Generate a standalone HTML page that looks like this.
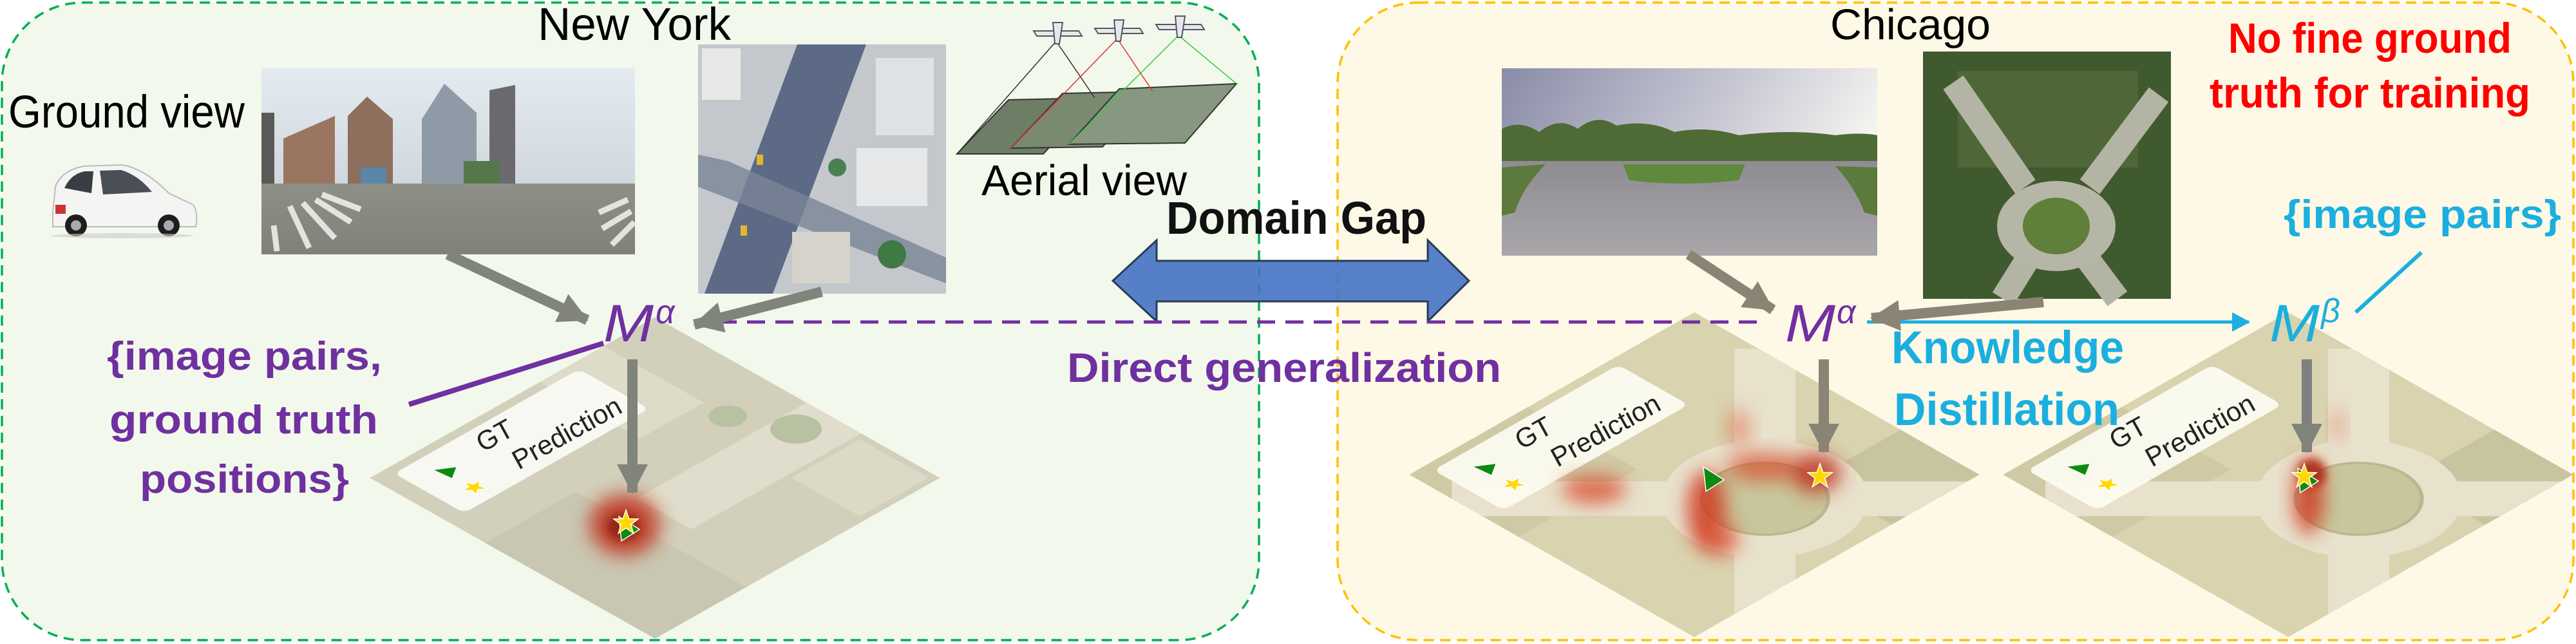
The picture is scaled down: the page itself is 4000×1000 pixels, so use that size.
<!DOCTYPE html>
<html><head><meta charset="utf-8"><style>
html,body{margin:0;padding:0;background:#fff;}
svg{display:block;}
text{font-family:"Liberation Sans",sans-serif;}
</style></head><body>
<svg width="4000" height="1000" viewBox="0 0 4000 1000" xmlns="http://www.w3.org/2000/svg">
<defs>
<marker id="ga" markerUnits="userSpaceOnUse" markerWidth="48" markerHeight="48" refX="44" refY="24" orient="auto">
<path d="M0,0 L46,24 L0,48 z" fill="#80847a"/></marker>
<marker id="gb" markerUnits="userSpaceOnUse" markerWidth="48" markerHeight="48" refX="44" refY="24" orient="auto">
<path d="M0,0 L46,24 L0,48 z" fill="#8a8474"/></marker>
<marker id="ca" markerUnits="userSpaceOnUse" markerWidth="30" markerHeight="30" refX="26" refY="15" orient="auto">
<path d="M0,0 L28,15 L0,30 z" fill="#1aafdf"/></marker>
<g id="star"><path d="M0,-20 L4.7,-6.5 L19,-6.2 L7.6,2.5 L11.8,16.2 L0,8 L-11.8,16.2 L-7.6,2.5 L-19,-6.2 L-4.7,-6.5 z" fill="#ffd800" stroke="#fff" stroke-width="1.5"/></g>
<g id="tri"><path d="M-14,-18 L18,2 L-10,20 z" fill="#0f8a10" stroke="#fff" stroke-width="1.5"/></g>
<filter id="bl" x="-50%" y="-50%" width="200%" height="200%"><feGaussianBlur stdDeviation="14"/></filter>
<filter id="bl2" x="-50%" y="-50%" width="200%" height="200%"><feGaussianBlur stdDeviation="6"/></filter>
<clipPath id="sq"><rect x="-313" y="-313" width="626" height="626"/></clipPath>
<clipPath id="d0"><polygon points="574,740 1017,491 1460,740 1017,992"/></clipPath>
<clipPath id="d1"><polygon points="2188,735 2631,483 3074,735 2631,989"/></clipPath>
<clipPath id="d2"><polygon points="3108,735 3554,483 4000,735 3554,989"/></clipPath>
<linearGradient id="nysky" x1="0" y1="0" x2="0" y2="1"><stop offset="0" stop-color="#e4ebf0"/><stop offset="1" stop-color="#c4ccd2"/></linearGradient>
<linearGradient id="chsky" x1="0" y1="0" x2="1" y2="0.3"><stop offset="0" stop-color="#8a8ca8"/><stop offset="0.6" stop-color="#c8c8d4"/><stop offset="1" stop-color="#f4f4f0"/></linearGradient>
<linearGradient id="road" x1="0" y1="0" x2="0" y2="1"><stop offset="0" stop-color="#8e8f86"/><stop offset="1" stop-color="#80827a"/></linearGradient>
<linearGradient id="croad" x1="0" y1="0" x2="0" y2="1"><stop offset="0" stop-color="#8f8c92"/><stop offset="1" stop-color="#a9a7aa"/></linearGradient>
</defs>

<rect x="3" y="4" width="1952" height="990" rx="125" ry="125" fill="#f2f8ec" stroke="#00b050" stroke-width="3.5" stroke-dasharray="16 10"/>
<rect x="2077" y="4" width="1919" height="990" rx="125" ry="125" fill="#fef8e6" stroke="#ffc000" stroke-width="3.5" stroke-dasharray="16 10"/>

<text x="835" y="62" font-size="71" textLength="300" lengthAdjust="spacingAndGlyphs">New York</text>
<text x="13" y="198" font-size="71" textLength="367" lengthAdjust="spacingAndGlyphs">Ground view</text>
<text x="1524" y="303" font-size="67" textLength="319" lengthAdjust="spacingAndGlyphs">Aerial view</text>
<text x="2842" y="61" font-size="67" textLength="249" lengthAdjust="spacingAndGlyphs">Chicago</text>
<text x="3460" y="82" font-size="66" font-weight="bold" fill="#ff0000" textLength="440" lengthAdjust="spacingAndGlyphs">No fine ground</text>
<text x="3431" y="167" font-size="66" font-weight="bold" fill="#ff0000" textLength="498" lengthAdjust="spacingAndGlyphs">truth for training</text>

<g>
<path d="M82,330 L86,290 Q95,265 130,258 L190,256 Q225,262 262,300 L300,318 Q308,330 304,352 L82,352 z" fill="#f4f5f2" stroke="#bbb" stroke-width="2"/>
<path d="M100,292 Q110,270 132,266 L145,266 L142,300 z" fill="#3a3e44"/>
<path d="M155,265 L188,264 Q215,272 236,298 L160,302 z" fill="#4a4e56"/>
<rect x="86" y="318" width="16" height="14" fill="#c33"/>
<circle cx="118" cy="350" r="17" fill="#1d1d1d"/><circle cx="118" cy="350" r="8" fill="#aaa"/>
<circle cx="262" cy="350" r="17" fill="#1d1d1d"/><circle cx="262" cy="350" r="8" fill="#aaa"/>
<ellipse cx="190" cy="366" rx="110" ry="4" fill="#ccc" opacity="0.6"/>
</g>

<g>
<rect x="406" y="106" width="580" height="289" fill="url(#nysky)"/>
<rect x="406" y="175" width="20" height="130" fill="#5a5a56"/>
<polygon points="440,215 520,180 520,300 440,300" fill="#9a7660"/>
<polygon points="540,180 570,150 610,185 610,300 540,300" fill="#8e6e5c"/>
<polygon points="655,185 690,130 740,175 740,300 655,300" fill="#8e9aa6"/>
<polygon points="760,140 800,132 800,300 760,300" fill="#6a6a6e"/>
<rect x="560" y="260" width="40" height="30" fill="#5a86a8"/>
<rect x="720" y="250" width="55" height="40" fill="#55784a"/>
<rect x="406" y="285" width="580" height="110" fill="url(#road)"/>
<g stroke="#eeeeea" stroke-width="9" opacity="0.9">
<line x1="425" y1="350" x2="430" y2="390"/><line x1="450" y1="320" x2="480" y2="385"/><line x1="470" y1="315" x2="520" y2="370"/>
<line x1="490" y1="310" x2="545" y2="345"/><line x1="500" y1="302" x2="560" y2="325"/>
<line x1="975" y1="310" x2="930" y2="330"/><line x1="980" y1="328" x2="935" y2="355"/><line x1="985" y1="345" x2="950" y2="380"/>
</g>
</g>

<g>
<rect x="1084" y="69" width="385" height="387" fill="#c4c8cc"/>
<polygon points="1238,69 1345,69 1200,456 1094,456" fill="#5d6a86"/>
<polygon points="1084,240 1130,250 1469,400 1469,440 1084,290" fill="#7a8496" opacity="0.8"/>
<rect x="1090" y="75" width="60" height="80" fill="#e8e8e6"/>
<rect x="1360" y="90" width="90" height="120" fill="#dfe2e4"/>
<rect x="1330" y="230" width="110" height="90" fill="#e6e7e8"/>
<rect x="1230" y="360" width="90" height="80" fill="#d6d3cc"/>
<circle cx="1385" cy="395" r="22" fill="#3f7a45"/><circle cx="1300" cy="260" r="14" fill="#4b8050"/>
<rect x="1175" y="240" width="10" height="16" fill="#e0b830"/><rect x="1150" y="350" width="10" height="16" fill="#e0b830"/>
</g>

<g>
<polygon points="1486,239 1566,155 1700,152 1620,239" fill="#6e7e66" stroke="#333" stroke-width="2"/>
<polygon points="1570,230 1650,145 1790,142 1712,228" fill="#7a8a70" stroke="#333" stroke-width="2"/>
<polygon points="1660,224 1738,138 1920,130 1840,222" fill="#889880" stroke="#333" stroke-width="2"/>
<g stroke-width="1.5" fill="none">
<path d="M1640,64 L1486,239 M1640,64 L1700,152" stroke="#333"/>
<path d="M1735,60 L1570,230 M1735,60 L1790,142" stroke="#d33"/>
<path d="M1830,55 L1660,224 M1830,55 L1920,130" stroke="#3c3"/>
</g>
<g fill="#e8e8ec" stroke="#556" stroke-width="2">
<path d="M1605,48 L1675,48 L1680,56 L1610,56 z"/><path d="M1635,35 L1650,35 L1645,68 L1638,68 z"/>
<path d="M1700,44 L1770,44 L1775,52 L1705,52 z"/><path d="M1730,31 L1745,31 L1740,64 L1733,64 z"/>
<path d="M1795,38 L1865,38 L1870,46 L1800,46 z"/><path d="M1825,25 L1840,25 L1835,58 L1828,58 z"/>
</g>
</g>

<g>
<rect x="2332" y="106" width="583" height="291" fill="url(#chsky)"/>
<path d="M2332,200 Q2360,185 2390,205 Q2420,180 2450,200 Q2480,175 2510,195 Q2560,185 2600,205 Q2650,195 2700,210 Q2780,200 2850,210 Q2890,205 2915,210 L2915,265 L2332,265 z" fill="#4f6b35"/>
<rect x="2332" y="250" width="583" height="147" fill="url(#croad)"/>
<path d="M2332,260 L2400,255 Q2365,290 2352,330 L2332,335 z" fill="#5c7a3c"/>
<path d="M2520,255 L2710,255 L2700,280 Q2610,290 2530,280 z" fill="#5f8a3e"/>
<path d="M2915,260 L2850,258 Q2880,290 2895,330 L2915,335 z" fill="#5c7a3c"/>
</g>

<g>
<rect x="2986" y="80" width="385" height="384" fill="#3f5a2e"/>
<rect x="3040" y="110" width="280" height="150" fill="#5a7040" opacity="0.6"/>
<g stroke="#b4b4a4" stroke-width="38" fill="none">
<line x1="3033" y1="128" x2="3145" y2="290"/><line x1="3352" y1="147" x2="3245" y2="290"/>
<line x1="3150" y1="400" x2="3110" y2="464"/><line x1="3240" y1="400" x2="3288" y2="464"/>
</g>
<ellipse cx="3193" cy="351" rx="92" ry="70" fill="#b6b6a6"/>
<ellipse cx="3193" cy="351" rx="52" ry="44" fill="#5f7f3a"/>
</g>

<!-- NY diamond -->
<g transform="translate(1017,742) scale(1,0.564) rotate(-45)">
<g clip-path="url(#sq)">
<rect x="-313" y="-313" width="626" height="626" fill="#d2d0bb"/>
<rect x="-60" y="20" width="373" height="120" fill="#e0ddcc"/>
<rect x="60" y="-313" width="140" height="220" fill="#dedbc9"/>
<rect x="150" y="150" width="150" height="150" fill="#dcd9c6"/>
<rect x="-313" y="-60" width="200" height="373" fill="#c9c7b2"/>
<circle cx="200" cy="-40" r="30" fill="#b8c2a2"/><circle cx="250" cy="60" r="40" fill="#b8c2a2"/>
<rect x="-278" y="-295" width="406" height="154" rx="14" fill="#fbfcf7" opacity="0.9"/>
<use href="#tri" x="-214" y="-241"/>
<use href="#star" x="-217" y="-180"/>
</g></g>
<g font-size="42" fill="#222" dominant-baseline="central" text-anchor="middle">
<text transform="translate(768,676) rotate(-29)">GT</text>
<text transform="translate(880,672) rotate(-29)">Prediction</text>
</g>
<g clip-path="url(#d0)">
<ellipse cx="970" cy="815" rx="55" ry="48" fill="#c0301c" opacity="0.85" filter="url(#bl)"/>
<ellipse cx="968" cy="818" rx="26" ry="22" fill="#8a1a10" opacity="0.8" filter="url(#bl2)"/>
<use href="#tri" x="975" y="820"/>
<use href="#star" x="972" y="812"/>
</g>

<!-- Chicago diamond 1 -->
<g transform="translate(2631,737) scale(1,0.57) rotate(-45)">
<g clip-path="url(#sq)">
<rect x="-313" y="-313" width="626" height="626" fill="#d9d3b0"/>
<rect x="-313" y="-313" width="260" height="240" fill="#cfc9a6"/>
<rect x="120" y="140" width="193" height="173" fill="#c9c4a0"/>
<g stroke="#e8e1cc" stroke-width="95" fill="none">
<line x1="31" y1="124" x2="-313" y2="-220"/><line x1="31" y1="124" x2="320" y2="-165"/>
<line x1="31" y1="124" x2="-250" y2="405"/><line x1="31" y1="124" x2="330" y2="423"/>
</g>
<circle cx="31" cy="124" r="160" fill="#e8e1cc"/>
<circle cx="31" cy="124" r="98" fill="#c8c69c" stroke="#b9b892" stroke-width="6"/>
<rect x="-278" y="-295" width="406" height="154" rx="14" fill="#fdfcf2" opacity="0.92"/>
<use href="#tri" x="-214" y="-241"/>
<use href="#star" x="-217" y="-180"/>
</g></g>
<g font-size="42" fill="#222" dominant-baseline="central" text-anchor="middle">
<text transform="translate(2381,672) rotate(-29)">GT</text>
<text transform="translate(2493,668) rotate(-29)">Prediction</text>
</g>
<g clip-path="url(#d1)">
<ellipse cx="2475" cy="760" rx="50" ry="22" fill="#d84a2a" opacity="0.75" filter="url(#bl)"/>
<ellipse cx="2650" cy="790" rx="30" ry="60" fill="#d03a20" opacity="0.85" filter="url(#bl)"/>
<ellipse cx="2670" cy="838" rx="30" ry="26" fill="#d84a2a" opacity="0.7" filter="url(#bl)"/>
<ellipse cx="2740" cy="725" rx="60" ry="22" fill="#d84a2a" opacity="0.7" filter="url(#bl)"/>
<ellipse cx="2820" cy="735" rx="38" ry="30" fill="#c0301c" opacity="0.85" filter="url(#bl)"/>
<ellipse cx="2700" cy="665" rx="18" ry="30" fill="#e06040" opacity="0.5" filter="url(#bl)"/>
<use href="#tri" x="2659" y="743"/>
<use href="#star" x="2826" y="740"/>
</g>

<!-- Chicago diamond 2 -->
<g transform="translate(3553,737) scale(1,0.57) rotate(-45)">
<g clip-path="url(#sq)">
<rect x="-313" y="-313" width="626" height="626" fill="#d9d3b0"/>
<rect x="-313" y="-313" width="260" height="240" fill="#cfc9a6"/>
<rect x="120" y="140" width="193" height="173" fill="#c9c4a0"/>
<g stroke="#e8e1cc" stroke-width="95" fill="none">
<line x1="31" y1="124" x2="-313" y2="-220"/><line x1="31" y1="124" x2="320" y2="-165"/>
<line x1="31" y1="124" x2="-250" y2="405"/><line x1="31" y1="124" x2="330" y2="423"/>
</g>
<circle cx="31" cy="124" r="160" fill="#e8e1cc"/>
<circle cx="31" cy="124" r="98" fill="#c8c69c" stroke="#b9b892" stroke-width="6"/>
<rect x="-278" y="-295" width="406" height="154" rx="14" fill="#fdfcf2" opacity="0.92"/>
<use href="#tri" x="-214" y="-241"/>
<use href="#star" x="-217" y="-180"/>
</g></g>
<g font-size="42" fill="#222" dominant-baseline="central" text-anchor="middle">
<text transform="translate(3304,672) rotate(-29)">GT</text>
<text transform="translate(3416,668) rotate(-29)">Prediction</text>
</g>
<g clip-path="url(#d2)">
<ellipse cx="3585" cy="770" rx="24" ry="60" fill="#d03a20" opacity="0.85" filter="url(#bl)"/>
<ellipse cx="3590" cy="735" rx="22" ry="22" fill="#a82010" opacity="0.8" filter="url(#bl2)"/>
<ellipse cx="3630" cy="660" rx="10" ry="25" fill="#e06040" opacity="0.45" filter="url(#bl)"/>
<use href="#tri" x="3582" y="745"/>
<use href="#star" x="3578" y="740"/>
</g>

<polygon points="1728,436 1796,373 1796,405 2217,405 2217,373 2281,436 2217,499 2217,468 1796,468 1796,499" fill="#4472c4" fill-opacity="0.9" stroke="#2b3a55" stroke-width="3"/>
<text x="1811" y="363" font-size="71" font-weight="bold" fill="#111" textLength="404" lengthAdjust="spacingAndGlyphs">Domain Gap</text>

<line x1="1116" y1="500" x2="2740" y2="500" stroke="#7030a0" stroke-width="5" stroke-dasharray="28 16"/>
<text x="1657" y="593" font-size="64" font-weight="bold" fill="#7030a0" textLength="674" lengthAdjust="spacingAndGlyphs">Direct generalization</text>

<text x="166" y="574" font-size="62" font-weight="bold" fill="#7030a0" textLength="427" lengthAdjust="spacingAndGlyphs">{image pairs,</text>
<text x="170" y="673" font-size="62" font-weight="bold" fill="#7030a0" textLength="417" lengthAdjust="spacingAndGlyphs">ground truth</text>
<text x="217" y="765" font-size="62" font-weight="bold" fill="#7030a0" textLength="325" lengthAdjust="spacingAndGlyphs">positions}</text>
<line x1="635" y1="628" x2="937" y2="533" stroke="#7030a0" stroke-width="8"/>

<line x1="2899" y1="500" x2="3492" y2="500" stroke="#1aafdf" stroke-width="5" marker-end="url(#ca)"/>
<text x="2937" y="564" font-size="71" font-weight="bold" fill="#1aafdf" textLength="361" lengthAdjust="spacingAndGlyphs">Knowledge</text>
<text x="2941" y="660" font-size="71" font-weight="bold" fill="#1aafdf" textLength="350" lengthAdjust="spacingAndGlyphs">Distillation</text>
<text x="3546" y="354" font-size="62" font-weight="bold" fill="#1aafdf" textLength="431" lengthAdjust="spacingAndGlyphs">{image pairs}</text>
<line x1="3760" y1="392" x2="3658" y2="485" stroke="#1aafdf" stroke-width="6"/>

<g stroke-width="16" fill="none">
<line x1="695" y1="395" x2="912" y2="497" stroke="#80847a" marker-end="url(#ga)"/>
<line x1="1276" y1="453" x2="1078" y2="504" stroke="#80847a" marker-end="url(#ga)"/>
<line x1="982" y1="558" x2="982" y2="765" stroke="#80847a" marker-end="url(#ga)"/>
<line x1="2622" y1="395" x2="2753" y2="481" stroke="#8a8474" marker-end="url(#gb)"/>
<line x1="3173" y1="469" x2="2906" y2="494" stroke="#8a8474" marker-end="url(#gb)"/>
<line x1="2832" y1="558" x2="2832" y2="702" stroke="#8a8474" marker-end="url(#gb)"/>
<line x1="3582" y1="558" x2="3582" y2="702" stroke="#7f7f7f" marker-end="url(#ga)"/>
</g>

<text x="937" y="530" font-size="82" font-style="italic" fill="#7030a0" textLength="78" lengthAdjust="spacingAndGlyphs">M</text>
<text x="1018" y="502" font-size="52" font-style="italic" fill="#7030a0">α</text>
<text x="2772" y="530" font-size="82" font-style="italic" fill="#7030a0" textLength="78" lengthAdjust="spacingAndGlyphs">M</text>
<text x="2852" y="502" font-size="52" font-style="italic" fill="#7030a0">α</text>
<text x="3524" y="530" font-size="82" font-style="italic" fill="#1aafdf" textLength="78" lengthAdjust="spacingAndGlyphs">M</text>
<text x="3604" y="500" font-size="52" font-style="italic" fill="#1aafdf">β</text>
</svg>
</body></html>
